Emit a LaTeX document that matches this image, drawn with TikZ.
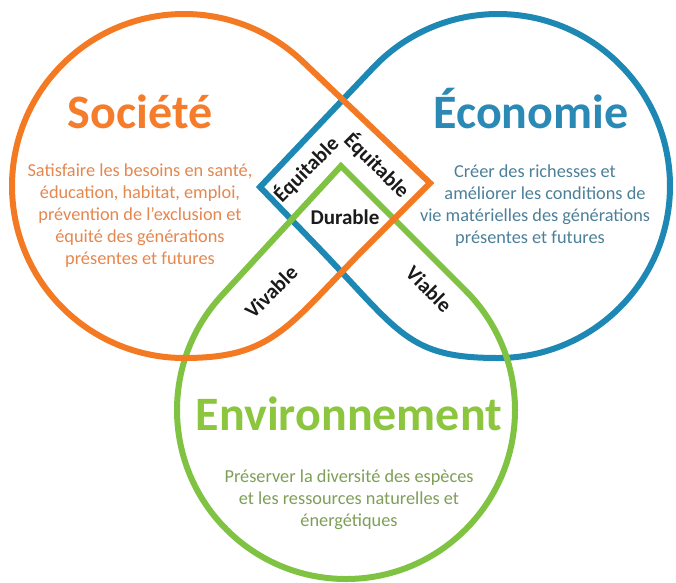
\documentclass[tikz,border=0pt]{standalone}
\usepackage{fontspec}
\setmainfont{Carlito}
\usetikzlibrary{calc}
\definecolor{orL}{HTML}{F37A22}
\definecolor{blL}{HTML}{1E88B4}
\definecolor{grL}{HTML}{80C342}
\definecolor{orT}{HTML}{F47C2A}
\definecolor{blT}{HTML}{2A8AB5}
\definecolor{grT}{HTML}{8CC63F}
\definecolor{orB}{HTML}{E5874F}
\definecolor{blB}{HTML}{4C8099}
\definecolor{grB}{HTML}{7F9E58}
\definecolor{labelc}{HTML}{1A1A1A}
\begin{document}
\begin{tikzpicture}[x=1pt,y=-1pt,
  shapeline/.style={line width=6pt, line join=miter, miter limit=10},
  title/.style={font=\bfseries\fontsize{48}{48}\selectfont, inner sep=0pt, anchor=base},
  body/.style={font=\fontsize{18.3}{22}\selectfont, align=center, inner sep=0pt},
  tag/.style={font=\bfseries\fontsize{21}{21}\selectfont, text=labelc, inner sep=0pt}]
\useasboundingbox (0,0) rectangle (676,582);
\fill[white] (0,0) rectangle (676,582);

% centres and corners
\coordinate (oc) at (184,186);
\coordinate (oa) at (430,183);
\coordinate (bc) at (498,186);
\coordinate (ba) at (260,187);
\coordinate (gc) at (346,410);
\coordinate (ga) at (341,166);

% Economie (blue)
\draw[shapeline, blL] (ba) -- ($(bc)+(223.48:172)$) arc[start angle=223.48, end angle=450, radius=172]
  .. controls (407,358) and (400.2,332.4) .. (316.9,246) -- cycle;

% Environnement (green)
\draw[shapeline, grL] (ga) -- ($(gc)+(315:169)$) arc[start angle=315, end angle=582.66, radius=169] -- cycle;

% Societe (orange)
\draw[shapeline, orL] (oa) -- ($(oc)+(-46.3:172)$) arc[start angle=-46.3, end angle=-270, radius=172]
  .. controls (275,358) and (287.3,325.8) .. (372,241) -- cycle;

% titles
\node[title, text=orT] (soc) at (140,128) {Société};
\node[title, text=blT] (eco) at (531,128) {Économie};
\node[title, text=grT] (env) at (349,430) {Environnement};

% bodies
\node[body, text=orB] (socb) at (140,216) {Satisfaire les besoins en santé,\\éducation, habitat, emploi,\\prévention de l’exclusion et\\équité des générations\\présentes et futures};
\node[body, text=blB] (ecob) at (535,206) {Créer des richesses et\\\hspace*{20pt}améliorer les conditions de\\vie matérielles des générations\\\hspace*{-10pt}présentes et futures};
\node[body, text=grB] (envb) at (349,500) {Préserver la diversité des espèces\\et les ressources naturelles et\\énergétiques};

% intersection labels
\node[tag, rotate=45] (eq1) at (306,169) {Équitable};
\node[tag, rotate=-45] (eq2) at (377,165) {Équitable};
\node[tag] (dur) at (345,217) {Durable};
\node[tag, rotate=45] (viv) at (271,292) {Vivable};
\node[tag, rotate=-45] (via) at (429,289) {Viable};
\end{tikzpicture}
\end{document}
